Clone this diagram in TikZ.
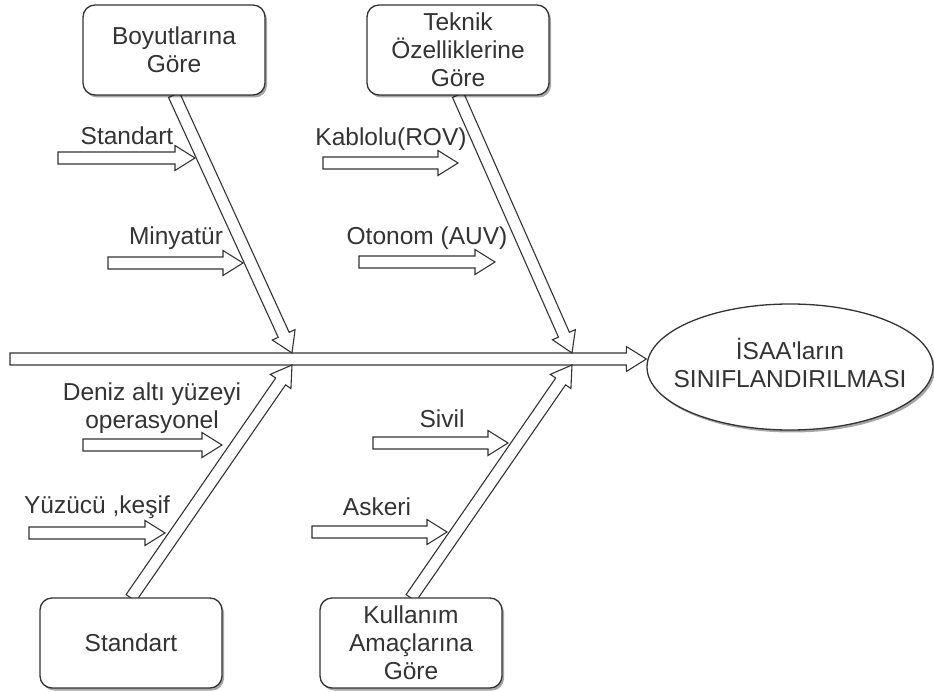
\documentclass[tikz,border=0pt]{standalone}
\usepackage{fontspec}
\setmainfont{Liberation Sans}[Ligatures=TeXOff]
\usetikzlibrary{calc,shapes.geometric,shadows}
\definecolor{ink}{HTML}{333333}

\tikzset{
  catbox/.style={draw=ink, line width=1.3pt, rounded corners=12pt, fill=white,
    minimum width=182pt, minimum height=90pt, align=center, text=ink, inner sep=0pt,
    drop shadow={shadow xshift=2pt, shadow yshift=-2.5pt, opacity=0.35, fill=black}},
  headoval/.style={draw=ink, line width=1.3pt, ellipse, fill=white,
    minimum width=286pt, minimum height=126pt, inner sep=0pt,
    drop shadow={shadow xshift=2pt, shadow yshift=-2.5pt, opacity=0.35, fill=black}},
  lbl/.style={text=ink, inner sep=0pt, align=center},
  fat/.style={draw=ink, line width=1.1pt, fill=white, line join=miter},
}

% hollow block arrow from #1 to the tip #2
\newcommand\hollowarrow[2]{%
  \coordinate (ha-neck) at ($(#2)!20pt!(#1)$);
  \draw[fat] ($(#1)!6pt!90:(#2)$) -- ($(ha-neck)!6pt!90:(#2)$)
    -- ($(ha-neck)!12.5pt!90:(#2)$) -- (#2)
    -- ($(ha-neck)!12.5pt!-90:(#2)$) -- ($(ha-neck)!6pt!-90:(#2)$)
    -- ($(#1)!6pt!-90:(#2)$) -- cycle;}

\begin{document}
\begin{tikzpicture}[x=1pt, y=-1pt, font=\fontsize{24.5}{28}\selectfont]
\useasboundingbox (0,0) rectangle (934,692);

% head of the fishbone
\node[headoval] (isaa) at (790,367) {};
\node[lbl] (isaatext) at (790,363) {İSAA'ların\\SINIFLANDIRILMASI};

% spine
\coordinate (spinestart) at (10,359);
\coordinate (spineend) at (isaa.west |- spinestart);
\hollowarrow{spinestart}{spineend}

% junctions on the spine
\coordinate (j1t) at (292,353);
\coordinate (j2t) at (572,353);
\coordinate (j1b) at (292,365);
\coordinate (j2b) at (572,365);

% category box centres and bone roots
\coordinate (pA) at (174,50);
\coordinate (pB) at (458,50);
\coordinate (pC) at (131,643);
\coordinate (pD) at (411,643);
\coordinate (sA) at (174,95);
\coordinate (sB) at (458,95);
\coordinate (sC) at (131,598);
\coordinate (sD) at (411,598);

% main bones
\hollowarrow{sA}{j1t}
\hollowarrow{sB}{j2t}
\hollowarrow{sC}{j1b}
\hollowarrow{sD}{j2b}

% sub-causes
\coordinate (a1s) at (58,158);  \coordinate (a1t) at (195,158);
\coordinate (a2s) at (108,263); \coordinate (a2t) at (243,263);
\coordinate (a3s) at (323,163); \coordinate (a3t) at (458,163);
\coordinate (a4s) at (359,262); \coordinate (a4t) at (495,262);
\coordinate (a5s) at (83,445);  \coordinate (a5t) at (222,445);
\coordinate (a6s) at (29,533);  \coordinate (a6t) at (165,533);
\coordinate (a7s) at (373,443); \coordinate (a7t) at (508,443);
\coordinate (a8s) at (312,532); \coordinate (a8t) at (447,532);
\hollowarrow{a1s}{a1t}
\hollowarrow{a2s}{a2t}
\hollowarrow{a3s}{a3t}
\hollowarrow{a4s}{a4t}
\hollowarrow{a5s}{a5t}
\hollowarrow{a6s}{a6t}
\hollowarrow{a7s}{a7t}
\hollowarrow{a8s}{a8t}

\node[lbl, anchor=base] (l1) at (127,145) {Standart};
\node[lbl, anchor=base] (l2) at (176,245) {Minyatür};
\node[lbl, anchor=base] (l3) at (391,146) {Kablolu(ROV)};
\node[lbl, anchor=base] (l4) at (427,245) {Otonom (AUV)};
\node[lbl] (l5) at (152,408) {Deniz altı yüzeyi\\operasyonel};
\node[lbl, anchor=base] (l6) at (97,513) {Yüzücü ,keşif};
\node[lbl, anchor=base] (l7) at (442,427) {Sivil};
\node[lbl, anchor=base] (l8) at (377,515) {Askeri};

% category boxes
\node[catbox] (boxA) at (pA) {Boyutlarına\\Göre};
\node[catbox] (boxB) at (pB) {Teknik\\Özelliklerine\\Göre};
\node[catbox] (boxC) at (pC) {Standart};
\node[catbox] (boxD) at (pD) {Kullanım\\Amaçlarına\\Göre};
\end{tikzpicture}
\end{document}
